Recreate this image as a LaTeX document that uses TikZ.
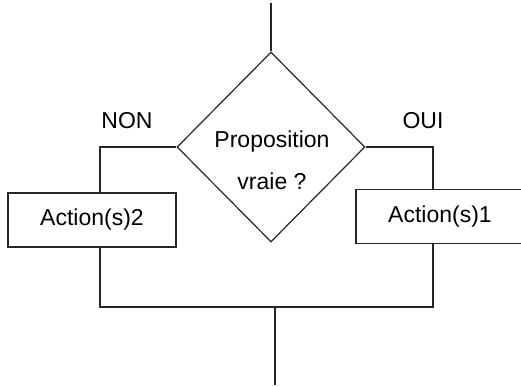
\documentclass[tikz,border=0pt]{standalone}
\usepackage{fontspec}
\setmainfont{Liberation Sans}
\usetikzlibrary{shapes.geometric}
\begin{document}
\begin{tikzpicture}[x=1pt,y=-1pt,line width=1.2pt,draw=black!85,
    lbl/.style={font=\fontsize{23}{27}\selectfont,inner sep=0pt},
    actbox/.style={draw,lbl,minimum width=168pt,minimum height=54pt}]
            \clip (0,0) rectangle (521,387);
            % decision
            \node (dec) at (271,147)[diamond,draw,minimum width=188pt,minimum height=190pt,inner sep=0pt]{};
            \node (q) at (272,160)[lbl,align=center]{Proposition\\[15pt]vraie ?};
            \node (non) at (127,121)[lbl]{NON};
            \node (oui) at (423,121)[lbl]{OUI};
            % actions
            \node (a2) at (92,220)[actbox]{Action(s)2};
            \node (a1) at (440,216.5)[actbox]{Action(s)1};
            \coordinate (in) at (271,3);
            \coordinate (nonc) at (100,147);
            \coordinate (ouic) at (433,147);
            \coordinate (joinl) at (100,307);
            \coordinate (joinr) at (433,307);
            \coordinate (mid) at (275,307);
            \coordinate (out) at (275,385);
            \draw (in) -- (dec.north);
            \draw (dec.west) -- (nonc) -- (nonc |- a2.north);
            \draw (dec.east) -- (ouic) -- (ouic |- a1.north);
            \draw (a2.south -| nonc) -- (joinl) -- (joinr) -- (a1.south -| ouic);
            \draw (mid) -- (out);
\end{tikzpicture}
\end{document}
